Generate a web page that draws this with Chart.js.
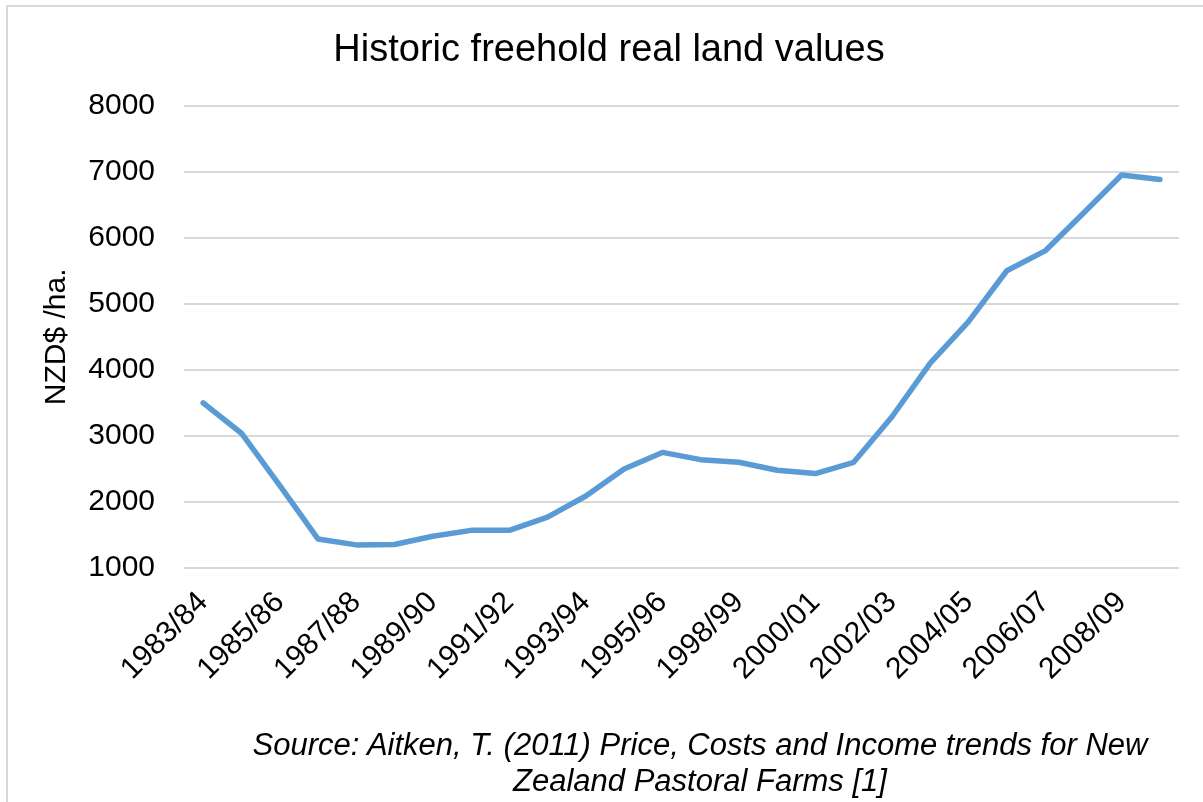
<!DOCTYPE html>
<html>
<head>
<meta charset="utf-8">
<script src="https://cdn.jsdelivr.net/npm/chart.js@4/dist/chart.umd.min.js"></script>
<style>
  body { margin: 0; background: #fff; overflow: hidden; }
  #wrap { position: relative; width: 1203px; height: 802px; }
  #frame { position: absolute; left: 6px; top: 5px; width: 1300px; height: 900px; border: 2px solid #d9d9d9; pointer-events: none; }
  #source { position: absolute; left: 200px; top: 727px; width: 1000px; text-align: center;
            font: italic 31px "Liberation Sans", Arial, sans-serif; line-height: 36px; color: #000; }
</style>
</head>
<body>
<div id="wrap">
  <canvas id="landChart" width="1203" height="802"></canvas>
  <div id="frame"></div>
  <div id="source">Source: Aitken, T. (2011) Price, Costs and Income trends for New<br>Zealand Pastoral Farms [1]</div>
</div>
<script>
let years = ['1983/84', '1984/85', '1985/86', '1986/87', '1987/88', '1988/89', '1989/90',
  '1990/91', '1991/92', '1992/93', '1993/94', '1994/95', '1995/96', '1996/97', '1998/99',
  '1999/00', '2000/01', '2001/02', '2002/03', '2003/04', '2004/05', '2005/06', '2006/07',
  '2007/08', '2008/09', '2009/10']

let landValues = [3500, 3040, 2250, 1440, 1350, 1355, 1480, 1570, 1570, 1770, 2090, 2500, 2750,
  2640, 2600, 2480, 2430, 2600, 3290, 4100, 4730, 5500, 5800, 6370, 6950, 6880]

let yTicks = [1000, 2000, 3000, 4000, 5000, 6000, 7000, 8000]

let lineColor = '#5b9bd5'
let gridColor = '#d9d9d9'
let fontFamily = '"Liberation Sans", Arial, sans-serif'

const ctx = document.getElementById('landChart').getContext('2d');
const landChart = new Chart(ctx, {
    type: 'line',
    data: {
        labels: years,
        datasets: [{
            label: 'Land value',
            data: landValues,
            borderColor: lineColor,
            borderWidth: 5.5,
            borderCapStyle: 'round',
            borderJoinStyle: 'round',
            pointRadius: 0,
            tension: 0,
            fill: false
        }]
    },
    options: {
        responsive: false,
        animation: false,
        devicePixelRatio: 1,
        layout: {
            padding: { left: 39, right: 24, top: 0, bottom: 0 }
        },
        plugins: {
            legend: { display: false },
            tooltip: { enabled: false },
            title: {
                display: true,
                text: 'Historic freehold real land values',
                color: '#000',
                font: { family: fontFamily, size: 38, weight: 'normal' },
                padding: { top: 28, bottom: 32 }
            }
        },
        scales: {
            x: {
                offset: true,
                grid: { display: false },
                border: { display: false },
                ticks: {
                    autoSkip: false,
                    maxRotation: 45,
                    minRotation: 45,
                    padding: 9,
                    color: '#000',
                    font: { family: fontFamily, size: 30 },
                    callback: function (value, index) {
                        return index % 2 == 0 ? years[index] : '';
                    }
                },
                afterFit: function (scale) {
                    scale.height = 234;
                }
            },
            y: {
                min: yTicks[0],
                max: yTicks[yTicks.length - 1],
                afterBuildTicks: function (scale) {
                    scale.ticks = yTicks.map(v => ({ value: v }));
                },
                grid: { color: gridColor, lineWidth: 2, drawTicks: false },
                border: { display: false },
                ticks: {
                    padding: 29,
                    color: '#000',
                    font: { family: fontFamily, size: 30 },
                    callback: function (value) {
                        return String(value);
                    }
                },
                title: {
                    display: true,
                    text: 'NZD$ /ha.',
                    color: '#000',
                    font: { family: fontFamily, size: 30 },
                    padding: 0
                },
                afterFit: function (scale) {
                    scale.width = 145;
                }
            }
        }
    }
});
</script>
</body>
</html>
